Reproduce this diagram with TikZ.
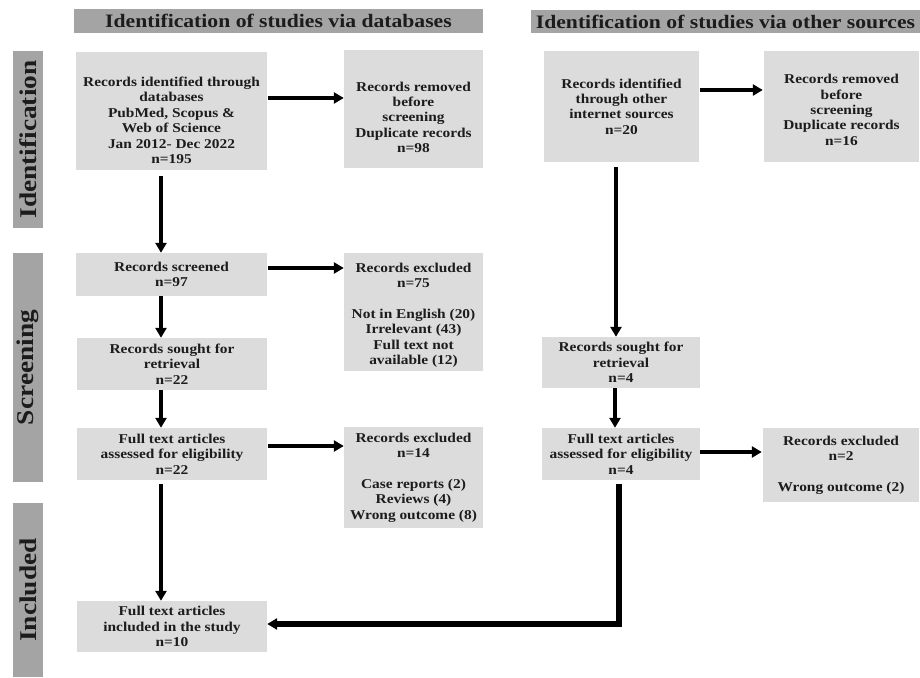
\documentclass[tikz,border=0pt]{standalone}
\usepackage{fontspec}
\setmainfont{Liberation Serif}[FakeStretch=1.14]
\usetikzlibrary{arrows.meta,calc}
\definecolor{boxgray}{HTML}{DCDCDC}
\definecolor{bargray}{HTML}{A4A4A4}
\definecolor{ink}{HTML}{1C1C1C}
\tikzset{
  box/.style={rectangle, fill=boxgray, draw=none, align=center, text=ink, inner sep=2pt,
    font=\bfseries\fontsize{13.5}{15.4}\selectfont},
  header/.style={rectangle, fill=bargray, draw=none, text=ink, inner sep=0pt,
    font=\bfseries\fontsize{19}{20}\selectfont},
  sidebar/.style={rectangle, fill=bargray, draw=none, text=ink, inner sep=0pt, rotate=90,
    font=\bfseries\fontsize{24}{26}\selectfont},
  arr/.style={line width=3.4pt, -{Triangle[length=10pt,width=11pt]}},
  thickarr/.style={line width=5.5pt, -{Triangle[length=10pt,width=11pt]}}
}
\begin{document}
\begin{tikzpicture}[x=1pt,y=-1pt]
\useasboundingbox (0,0) rectangle (920,677);
% headers
\node[header, minimum width=409pt, minimum height=24pt] (h1) at (278.5,21) {Identification of studies via databases};
\node[header, minimum width=389pt, minimum height=23pt] (h2) at (725.5,21.5) {Identification of studies via other sources};
% side bars
\node[sidebar, minimum width=177pt, minimum height=30pt] (s1) at (28,139.5) {Identification};
\node[sidebar, minimum width=229pt, minimum height=30pt] (s2) at (28,367.5) {Screening};
\node[sidebar, minimum width=174pt, minimum height=30pt] (s3) at (28,590) {Included};
% boxes left
\node[box, minimum width=191pt, minimum height=118pt] (A) at (171.5,111) {\rule{0pt}{28pt}Records identified through\\databases\\PubMed, Scopus \&\\Web of Science\\Jan 2012- Dec 2022\\n=195};
\node[box, minimum width=139pt, minimum height=118pt] (B) at (413.5,109) {\rule{0pt}{26pt}Records removed\\before\\screening\\Duplicate records\\n=98};
\node[box, minimum width=191pt, minimum height=43pt] (E) at (171.5,274.5) {Records screened\\n=97};
\node[box, minimum width=139pt, minimum height=118pt] (F) at (413.5,312) {\rule{0pt}{16pt}Records excluded\\n=75\\[15.4pt]Not in English (20)\\Irrelevant (43)\\Full text not\\available (12)};
\node[box, minimum width=190pt, minimum height=52pt] (G) at (172,364) {Records sought for\\retrieval\\n=22};
\node[box, minimum width=190pt, minimum height=52pt] (H) at (172,454) {Full text articles\\assessed for eligibility\\n=22};
\node[box, minimum width=139pt, minimum height=101pt] (I) at (413.5,477.5) {Records excluded\\n=14\\[15.4pt]Case reports (2)\\Reviews (4)\\Wrong outcome (8)};
\node[box, minimum width=190pt, minimum height=51pt] (M) at (172,626.5) {Full text articles\\included in the study\\n=10};
% boxes right
\node[box, minimum width=155pt, minimum height=111pt] (C) at (621.5,106.5) {Records identified\\through other\\internet sources\\n=20};
\node[box, minimum width=155pt, minimum height=111pt] (D) at (841.5,106.5) {\rule{0pt}{16pt}Records removed\\before\\screening\\Duplicate records\\n=16};
\node[box, minimum width=158pt, minimum height=51pt] (J) at (621,362.5) {Records sought for\\retrieval\\n=4};
\node[box, minimum width=158pt, minimum height=52pt] (K) at (621,454) {Full text articles\\assessed for eligibility\\n=4};
\node[box, minimum width=156pt, minimum height=74pt] (L) at (841,465) {Records excluded\\n=2\\[15.4pt]Wrong outcome (2)};
% connectors left column
\draw[arr, shorten <=6pt] ([xshift=-10.5pt]A.south) -- ([xshift=-10.5pt]E.north);
\draw[arr] ([xshift=-10.5pt]E.south) -- ([xshift=-11pt]G.north);
\draw[arr] ([xshift=-11pt]G.south) -- ([xshift=-11pt]H.north);
\draw[arr, shorten <=4pt] ([xshift=-11pt]H.south) -- ([xshift=-11pt]M.north);
\coordinate (ab) at ([yshift=13pt]A.east);
\draw[arr, shorten <=1pt] (ab) -- (ab -| B.west);
\coordinate (ef) at ([yshift=6.5pt]E.east);
\draw[arr, shorten <=1pt] (ef) -- (ef -| F.west);
\coordinate (hi) at ([yshift=8pt]H.east);
\draw[arr, shorten <=1pt] (hi) -- (hi -| I.west);
% connectors right column
\coordinate (cd) at ([yshift=16.5pt]C.east);
\draw[arr, shorten <=1pt, shorten >=1pt] (cd) -- (cd -| D.west);
\coordinate (cj) at ([xshift=-5.5pt]C.south);
\draw[arr, shorten <=5pt] (cj) -- (cj |- J.north);
\coordinate (jk) at ([xshift=-6pt]J.south);
\draw[arr] (jk) -- (jk |- K.north);
\coordinate (kl) at ([yshift=2pt]K.east);
\draw[arr, shorten >=1pt] (kl) -- (kl -| L.west);
\coordinate (km) at ([xshift=-2pt]K.south);
\coordinate (mm) at ([yshift=2.5pt]M.east);
\draw[thickarr, shorten <=4pt] (km) -- (km |- mm) -- (mm);
\end{tikzpicture}
\end{document}
